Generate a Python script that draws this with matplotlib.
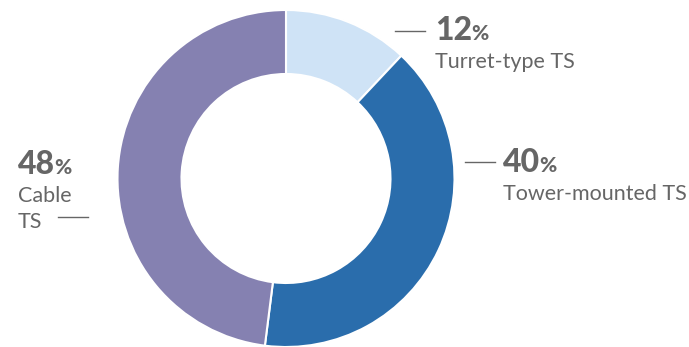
import matplotlib
matplotlib.use("Agg")
import matplotlib.pyplot as plt

# share of each type
labels = ["Turret-type TS", "Tower-mounted TS", "Cable\nTS"]
shares = [12, 40, 48]
colors = ["#CFE3F6", "#2A6DAC", "#8581B1"]

plt.rcParams["font.family"] = ["Lato", "DejaVu Sans"]
text_col = "#666666"

W, H = 689, 347
fig = plt.figure(figsize=(W / 100, H / 100), dpi=100)
ax = fig.add_axes([0, 0, 1, 1])

cx, cy, r = 286, H - 178.5, 168.5
ax.pie(shares, colors=colors, startangle=90, counterclock=False,
       center=(cx, cy), radius=r, frame=True,
       wedgeprops=dict(width=64, edgecolor="white", linewidth=1.5))
ax.set_xlim(0, W)
ax.set_ylim(0, H)
ax.set_aspect("equal")
ax.axis("off")


def label(x, y, pct, name, line):
    # bold figure with a smaller percent sign, then the category name below
    t = ax.text(x, H - y, str(pct), fontsize=23, fontweight="black",
                color=text_col, ha="left", va="baseline")
    fig.canvas.draw()
    bb = t.get_window_extent()
    ax.text(bb.x1 - 1, H - y, "%", fontsize=15, fontweight="black",
            color=text_col, ha="left", va="baseline")
    for i, row in enumerate(name.split("\n")):
        ax.text(x, H - (y + 28 + 26 * i), row, fontsize=15.5, color=text_col,
                ha="left", va="baseline")
    ax.plot(line[0], [H - line[1]] * 2, color=text_col, lw=1)


label(435, 40, shares[0], labels[0], ([395, 425], 31))
label(503, 172, shares[1], labels[1], ([465, 495], 162))
label(18, 174, shares[2], labels[2], ([58, 88], 217))

fig.savefig("out.png", dpi=100)
